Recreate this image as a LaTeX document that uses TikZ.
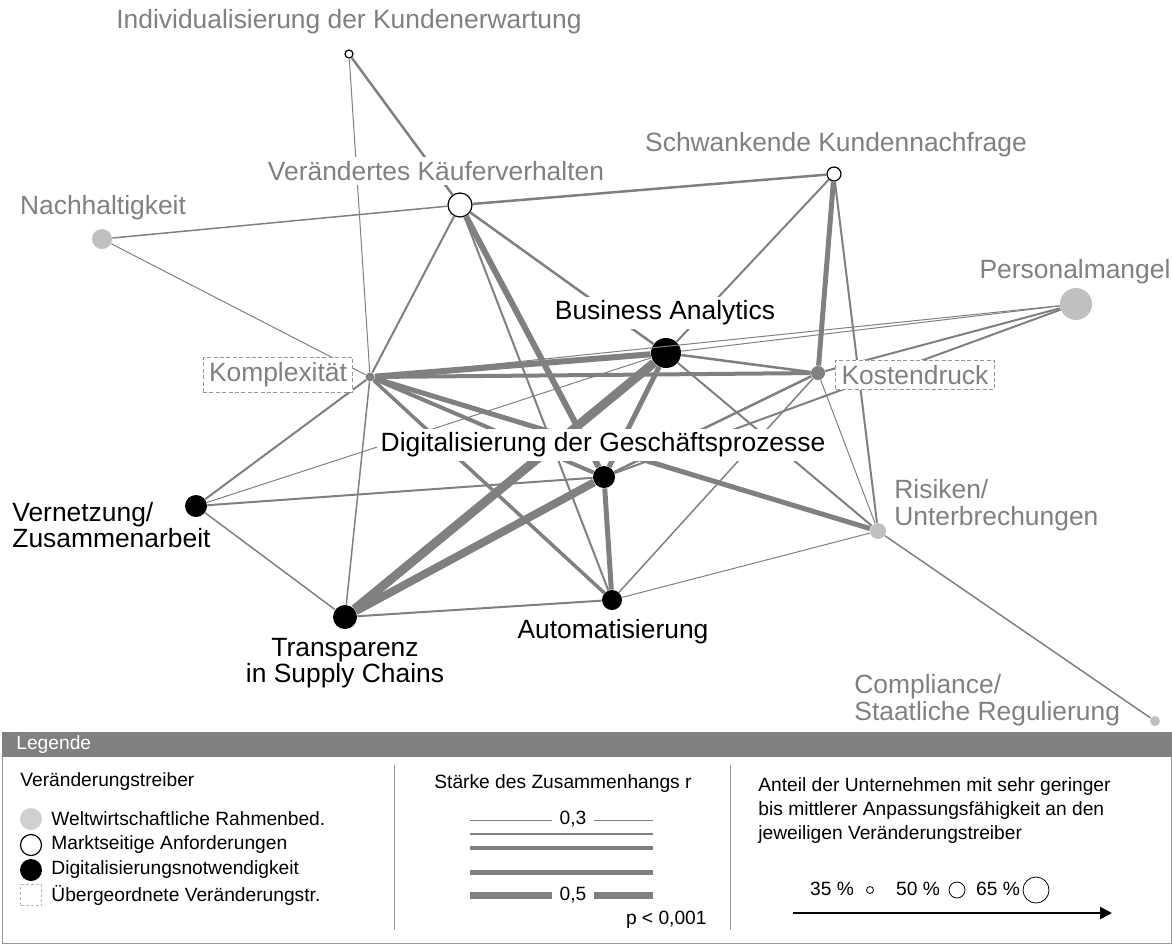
\documentclass[tikz,border=0pt]{standalone}
\usepackage{fontspec}
\setmainfont{Liberation Sans}
\usetikzlibrary{arrows.meta}

\definecolor{linkgray}{RGB}{128,128,128}
\definecolor{textgray}{RGB}{128,128,128}
\definecolor{dotgray}{RGB}{192,192,192}
\definecolor{framegray}{RGB}{150,150,150}
\newcommand{\biglab}{\fontsize{13.2}{13.2}\selectfont}
\newcommand{\leglab}{\fontsize{9.6}{12}\selectfont}

\begin{document}
\begin{tikzpicture}[x=0.5pt, y=-0.5pt,
    link/.style={draw=linkgray, line width=#1},
    digit/.style={circle, fill=black, inner sep=0pt},
    market/.style={circle, draw=black, fill=white, inner sep=0pt, line width=0.6pt},
    world/.style={circle, fill=dotgray, inner sep=0pt},
    upper/.style={circle, fill=linkgray, inner sep=0pt},
    blacklab/.style={fill=white, inner sep=2pt, align=center, font=\biglab},
    graylab/.style={blacklab, text=textgray},
    upperlab/.style={graylab, draw=framegray, dash pattern=on 2pt off 1.2pt, line width=0.5pt, inner xsep=3pt, inner ysep=2.5pt},
    legtext/.style={font=\leglab, inner sep=0pt, align=left}
]
\useasboundingbox (0,0) rectangle (1172,944);

% drivers
\node[market, minimum size=4pt] (indiv) at (349,54) {};
\node[market, minimum size=12pt] (kaeufer) at (460,205) {};
\node[market, minimum size=7pt] (nachfrage) at (834,174) {};
\node[world, minimum size=10pt] (nachhalt) at (102,239) {};
\node[world, minimum size=16pt] (personal) at (1076,304) {};
\node[digit, minimum size=15pt] (analytics) at (666,353) {};
\node[upper, minimum size=4.5pt] (komplex) at (370,377) {};
\node[upper, minimum size=7pt] (kosten) at (818,373) {};
\node[digit, minimum size=11pt] (digital) at (604,477) {};
\node[digit, minimum size=11pt] (vernetz) at (196,506) {};
\node[world, minimum size=8pt] (risiken) at (878,531) {};
\node[digit, minimum size=12pt] (transp) at (345,617) {};
\node[digit, minimum size=10pt] (automat) at (612,600) {};
\node[world, minimum size=5pt] (compliance) at (1155,721) {};

% correlations
\draw[link=0.5pt] (indiv) -- (komplex);
\draw[link=1.25pt] (indiv) -- (kaeufer);
\draw[link=1.25pt] (kaeufer) -- (nachfrage);
\draw[link=0.75pt] (kaeufer) -- (nachhalt);
\draw[link=0.5pt] (nachhalt) -- (komplex);
\draw[link=1pt] (kaeufer) -- (komplex);
\draw[link=1pt] (kaeufer) -- (automat);
\draw[link=3pt] (kaeufer) -- (digital);
\draw[link=1.25pt] (kaeufer) -- (analytics);
\draw[link=1pt] (nachfrage) -- (analytics);
\draw[link=2.5pt] (nachfrage) -- (kosten);
\draw[link=1pt] (nachfrage) -- (risiken);
\draw[link=0.5pt] (personal) -- (analytics);
\draw[link=0.5pt] (personal) -- (komplex);
\draw[link=1pt] (personal) -- (kosten);
\draw[link=1pt] (personal) -- (digital);
\draw[link=3pt] (analytics) -- (komplex);
\draw[link=1.25pt] (analytics) -- (kosten);
\draw[link=4.5pt] (analytics) -- (transp);
\draw[link=2.5pt] (analytics) -- (digital);
\draw[link=1pt] (analytics) -- (risiken);
\draw[link=0.5pt] (analytics) -- (vernetz);
\draw[link=2pt] (komplex) -- (kosten);
\draw[link=2.5pt] (komplex) -- (risiken);
\draw[link=1.75pt] (komplex) -- (automat);
\draw[link=2pt] (komplex) -- (digital);
\draw[link=0.75pt] (komplex) -- (transp);
\draw[link=1pt] (komplex) -- (vernetz);
\draw[link=1.25pt] (kosten) -- (digital);
\draw[link=0.75pt] (kosten) -- (automat);
\draw[link=0.5pt] (kosten) -- (risiken);
\draw[link=4pt] (digital) -- (transp);
\draw[link=2.5pt] (digital) -- (automat);
\draw[link=1pt] (digital) -- (vernetz);
\draw[link=1pt] (transp) -- (automat);
\draw[link=0.75pt] (transp) -- (vernetz);
\draw[link=0.5pt] (automat) -- (risiken);
\draw[link=0.75pt] (risiken) -- (compliance);

% labels
\node[graylab] (indivlab) at (349,22) {Individualisierung der Kundenerwartung};
\node[graylab] (kaeuferlab) at (436,171) {Verändertes Käuferverhalten};
\node[graylab] (nachfragelab) at (836,145) {Schwankende Kundennachfrage};
\node[graylab] (nachhaltlab) at (103,208) {Nachhaltigkeit};
\node[graylab] (personallab) at (1075,272) {Personalmangel};
\node[blacklab] (analyticslab) at (665,313) {Business Analytics};
\node[upperlab] (komplexlab) at (278,375) {Komplexität};
\node[upperlab] (kostenlab) at (915,375) {Kostendruck};
\node[blacklab] (digitallab) at (603,445) {Digitalisierung der Geschäftsprozesse};
\node[blacklab, anchor=west, align=left, fill=none, inner sep=0pt] (vernetzlab) at (12,525) {Vernetzung/\\Zusammenarbeit};
\node[blacklab, fill=none, inner sep=0pt] (transplab) at (345,663) {Transparenz\\in Supply Chains};
\node[blacklab, fill=none, inner sep=0pt] (automatlab) at (613,632) {Automatisierung};
\node[graylab, anchor=west, align=left, fill=none, inner sep=0pt] (risikenlab) at (894,505) {Risiken/\\Unterbrechungen};
\node[graylab, anchor=west, align=left, fill=none, inner sep=0pt] (compliancelab) at (854,700) {Compliance/\\Staatliche Regulierung};

% legend
\fill[linkgray] (2,732) rectangle (1172,757);
\node[legtext, anchor=west, text=white] (legtitle) at (16,745) {Legende};
\draw[framegray] (2.5,757) -- (2.5,943.5) -- (1171.5,943.5) -- (1171.5,757);
\draw[framegray] (394,765) -- (394,930);
\draw[framegray] (730,765) -- (730,930);

\node[legtext, anchor=west] (treiber) at (20,782) {Veränderungstreiber};
\node[world, fill=dotgray!75, minimum size=11pt] (legworld) at (31,819) {};
\node[market, minimum size=10.5pt] (legmarket) at (31,845) {};
\node[digit, minimum size=11pt] (legdigit) at (31,870) {};
\node[draw=framegray!70, dash pattern=on 1.5pt off 1pt, line width=0.4pt, minimum size=10.5pt, inner sep=0pt] (legupper) at (31,895) {};
\node[legtext, anchor=west] at (51,819) {Weltwirtschaftliche Rahmenbed.};
\node[legtext, anchor=west] at (51,845) {Marktseitige Anforderungen};
\node[legtext, anchor=west] at (51,870) {Digitalisierungsnotwendigkeit};
\node[legtext, anchor=west] at (51,895) {Übergeordnete Veränderungstr.};

\node[legtext] (staerke) at (563,784) {Stärke des Zusammenhangs r};
\draw[link=0.5pt] (470,820) -- (653,820);
\draw[link=1.15pt] (470,834) -- (653,834);
\draw[link=2pt] (470,848) -- (653,848);
\draw[link=2.5pt] (470,872) -- (653,872);
\draw[link=3.5pt] (470,895) -- (653,895);
\node[legtext, fill=white, inner xsep=4pt] at (573,819) {0,3};
\node[legtext, fill=white, inner xsep=4pt] at (573,895) {0,5};
\node[legtext, anchor=east] at (707,920) {p < 0,001};

\node[legtext, anchor=west] (anteil) at (758,811) {Anteil der Unternehmen mit sehr geringer\\bis mittlerer Anpassungsfähigkeit an den\\jeweiligen Veränderungstreiber};
\node[legtext] (p35) at (832,889) {35 \%};
\node[market, minimum size=3.5pt, line width=0.4pt] (c35) at (870,890) {};
\node[legtext] (p50) at (918,889) {50 \%};
\node[market, minimum size=8pt, line width=0.4pt] (c50) at (957,890) {};
\node[legtext] (p65) at (998,889) {65 \%};
\node[market, minimum size=13pt, line width=0.4pt] (c65) at (1036,890) {};
\draw[line width=1.3pt, -{Triangle[length=6pt, width=6pt]}] (793,913) -- (1112,913);
\end{tikzpicture}
\end{document}
